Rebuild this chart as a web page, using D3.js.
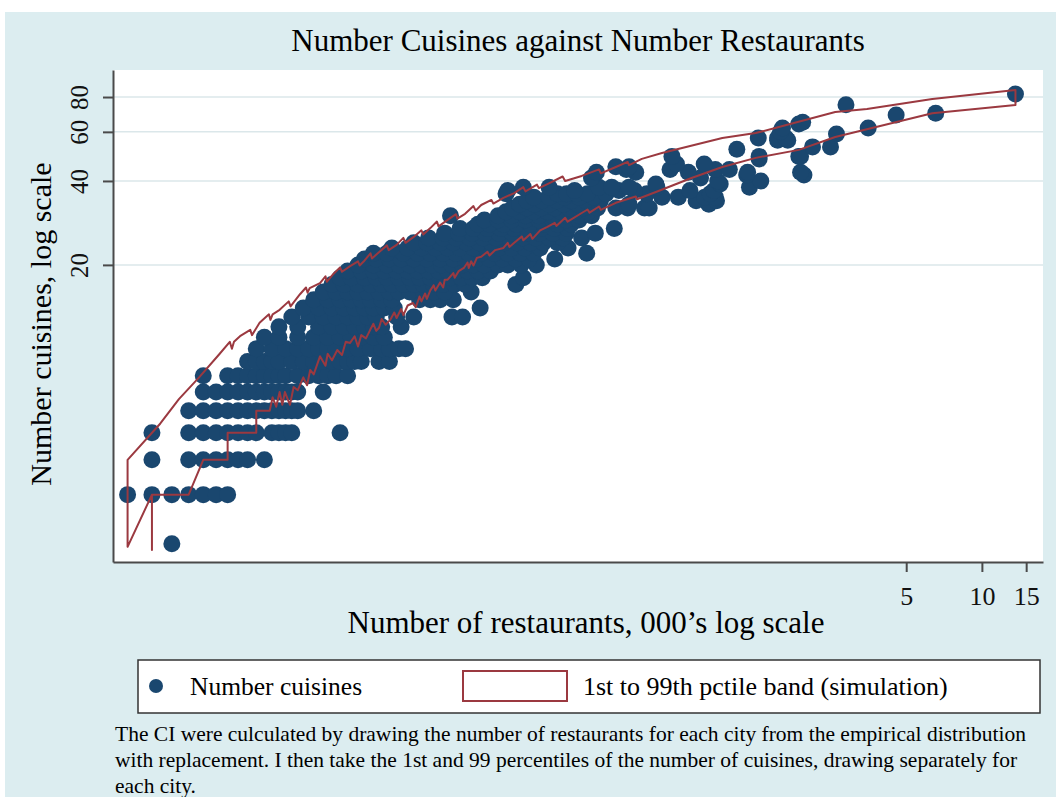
<!DOCTYPE html>
<html>
<head>
<meta charset="utf-8">
<script src="https://cdn.jsdelivr.net/npm/d3@7"></script>
<style>
  body { margin: 0; background: #fff; }
  svg { display: block; font-family: "Liberation Serif", "DejaVu Serif", serif; }
</style>
</head>
<body>
<div id="chart"></div>
<script>
const W = 1056;
const H = 797;
const plot = { left: 113, right: 1043, top: 70, bottom: 562 };

// number of cuisines (one row per value) and the restaurant counts of the cities at that value
const cuisineRows = [2, 3, 4, 5, 6, 7, 8, 9, 10, 11, 12, 13, 14, 15, 16, 17, 18, 19, 20,
  21, 22, 23, 24, 25, 26, 27, 28, 29, 30, 31, 32, 33, 34, 35, 36, 37, 38, 39, 40,
  41, 42, 43, 44, 45, 46, 48, 49, 52, 53, 56, 57, 59, 60, 62, 64, 65, 69, 70, 75, 82];
const restaurantRows = [
  [6],
  [4, 5, 6, 7, 8, 9, 10],
  [5, 7, 8, 9, 10, 11, 12, 14],
  [5, 7, 8, 9, 10, 11, 12, 13, 15, 16, 17, 18, 28],
  [7, 8, 9, 10, 11, 12, 13, 14, 15, 16, 17, 18, 19, 22],
  [8, 9, 10, 11, 12, 13, 14, 15, 16, 17, 18, 19, 24],
  [8, 10, 11, 12, 13, 14, 15, 16, 17, 19, 21, 23, 25, 27, 30],
  [12, 13, 14, 15, 16, 18, 20, 22, 24, 26, 28, 30, 32, 34, 40, 44],
  [13, 15, 17, 19, 21, 23, 25, 27, 30, 33, 37, 41, 44, 48, 51],
  [14, 16, 19, 22, 25, 28, 31, 34, 38, 42],
  [16, 19, 23, 26, 29, 32, 35, 38, 41, 49],
  [18, 21, 24, 27, 30, 33, 36, 39, 47, 55, 78, 86],
  [20, 23, 26, 29, 32, 35, 38, 42, 46, 101],
  [22, 25, 28, 31, 34, 37, 41, 45, 58, 64, 70, 79],
  [24, 27, 30, 33, 36, 40, 44, 48, 53, 60, 66, 73, 93],
  [26, 29, 33, 37, 41, 45, 50, 55, 60, 66, 72, 80, 88, 140],
  [28, 31, 35, 39, 43, 48, 53, 58, 64, 70, 77, 85, 94, 103, 150],
  [30, 34, 38, 42, 47, 52, 57, 63, 69, 75, 82, 90, 99, 111],
  [33, 38, 43, 48, 53, 59, 65, 71, 78, 86, 95, 105, 119, 130, 147, 169],
  [35, 39, 44, 49, 55, 62, 70, 79, 88, 98, 110, 124, 140, 158, 200],
  [38, 43, 50, 57, 64, 72, 81, 91, 102, 115, 130, 146, 165, 268],
  [45, 52, 59, 67, 75, 84, 95, 107, 120, 135, 152, 175, 226],
  [55, 62, 70, 79, 89, 100, 112, 126, 142, 160, 180, 205],
  [63, 72, 81, 92, 104, 117, 132, 149, 168, 190, 215, 256],
  [73, 83, 94, 106, 120, 136, 154, 174, 197, 222, 290],
  [84, 95, 108, 122, 138, 156, 176, 199, 225, 345],
  [99, 110, 125, 141, 160, 181, 205, 232],
  [105, 119, 135, 153, 173, 196, 222, 250],
  [77, 119, 135, 153, 173, 196, 222, 251, 280],
  [128, 145, 165, 187, 212, 240, 272],
  [136, 155, 177, 200, 228, 260, 296, 350, 390, 455, 475],
  [145, 166, 190, 217, 248, 283, 395, 820],
  [155, 178, 204, 233, 266, 304, 730, 880],
  [165, 190, 218, 250, 285, 534, 620, 790, 870],
  [128, 205, 223, 245, 270, 320, 465, 830],
  [130, 240, 360, 415, 690, 860],
  [150, 190, 300, 337, 395, 510, 1190],
  [505, 910],
  [890, 1320],
  [280, 760],
  [1160, 1960],
  [293, 420, 680, 1170, 1900],
  [385, 575, 870, 990],
  [350, 395],
  [610, 786],
  [1300],
  [585, 1300, 1870, 1900],
  [1060],
  [2120, 2500],
  [1540, 1690],
  [1290, 1540, 1660],
  [2640],
  [1580],
  [1610, 3530],
  [1870],
  [1937],
  [4560],
  [6550],
  [2880],
  [13600]
];

// 1st and 99th percentile band from the simulation: [restaurants, cuisines]
const upperBand = [[4, 4], [5.4, 5.4], [6.4, 6.6], [7.7, 7.9], [9.3, 9.6], [10.2, 10.6], [10.4, 10.0],
  [10.6, 10.6], [11.2, 11.1], [12.3, 11.7], [12.5, 11.2], [13.4, 12.4], [14.6, 13.3], [14.8, 12.7],
  [15.1, 13.3], [16.1, 13.8], [17.5, 14.8], [17.8, 14.2], [19.4, 15.7], [20.5, 16.6], [20.8, 15.9],
  [21.2, 16.5], [23.3, 17.2], [24.5, 18.2], [24.8, 17.4], [26.4, 18.6], [28, 19.6], [28.5, 18.9],
  [30.7, 19.8], [33, 20.6], [33.5, 19.9], [35, 20.7], [37, 22], [37.5, 21.1], [40.4, 22.4], [43, 23.5],
  [43.7, 22.6], [47, 23.6], [50, 25], [51, 24], [55, 25.2], [59, 26.6], [60, 25.7], [64, 27.1],
  [68, 28.6], [69, 27.5], [75, 29], [81, 30.4], [82, 29.3], [88, 30.5], [95, 32.5], [97, 31.3],
  [102, 32.8], [112, 34.2], [114, 33.2], [125, 34.8], [138, 36.2], [150, 38], [153, 36.7], [170, 38.8],
  [173, 37.7], [187, 39], [215, 41.5], [220, 40], [256, 41.7], [300, 44], [305, 42.6], [350, 44.9],
  [390, 46.8], [395, 45.6], [444, 48], [534, 50.4], [642, 52.5], [928, 57], [1260, 59.4], [1612, 63],
  [2610, 70.7], [3490, 72.4], [6350, 78.7], [13600, 84.8]];
const lowerBand = [[4, 1.95], [5, 3], [5, 1.9], [5, 3], [7, 3], [8, 4], [10, 4], [10, 5], [13, 5],
  [13, 6], [14.7, 6], [15.1, 6.7], [15.6, 6.2], [16.1, 7.0], [16.5, 6.3], [16.9, 7], [17.7, 6.3],
  [18.3, 7.3], [19, 7.1], [20, 7.9], [20.7, 7.4], [21.3, 8.4], [22, 8.1], [23.3, 9.4], [24.5, 8.7],
  [25, 9.6], [26, 9.1], [27.3, 9.9], [28.5, 9.5], [29.5, 10.6], [30.7, 10.5], [32, 11.1], [33, 10.2],
  [34, 11.2], [35.5, 10.9], [36.9, 11.7], [38, 12.3], [39, 11.6], [40, 11.9], [41, 12.8], [42.5, 12.2],
  [44.3, 12.7], [46, 13.5], [47, 12.9], [49, 13.9], [50, 13.2], [52, 14.3], [54.6, 14.6], [56, 14.1],
  [58, 15.4], [59, 14.8], [61, 15.8], [62, 15.1], [64, 16.2], [66, 16.9], [67, 16.2], [70, 17.3],
  [72, 16.6], [73, 17.7], [75, 17.7], [79, 18.7], [80, 18.0], [83, 19.0], [87, 19.5], [90, 20.4],
  [91, 19.5], [93, 20.6], [95, 19.9], [98, 21.2], [102, 21.4], [108, 22.3], [110, 21.6], [116, 22.6],
  [125, 23], [130, 24], [132, 23.2], [138, 24], [148, 25.3], [150, 24.5], [160, 25.8], [163, 24.8],
  [175, 26.6], [187, 27.4], [200, 28.3], [203, 27.6], [220, 29.5], [225, 28.6], [256, 30.7],
  [270, 31.6], [275, 30.8], [300, 32.4], [305, 31.5], [350, 33.4], [420, 35.2], [425, 34.4],
  [505, 36.5], [700, 41], [928, 44.9], [1260, 48.4], [1870, 51.7], [2610, 57.5], [6350, 70],
  [13600, 74.9]];

const xTicks = [5000, 10000, 15000];
const yTicks = [20, 40, 60, 80];
const noteLines = [
  "The CI were culculated by drawing the number of restaurants for each city from the empirical distribution",
  "with replacement. I then take the 1st and 99 percentiles of the number of cuisines, drawing separately for",
  "each city."
];

const navy = "#1a476f";
const maroon = "#9b3940";

const points = cuisineRows.flatMap((c, i) => restaurantRows[i].map((r) => ({ r, c })));

const svg = d3.select("#chart").append("svg").attr("width", W).attr("height", H);

svg.append("rect").attr("x", 5).attr("y", 12).attr("width", W - 5).attr("height", H - 12).attr("fill", "#dcedf0");
svg.append("rect")
  .attr("x", plot.left)
  .attr("y", plot.top)
  .attr("width", plot.right - plot.left)
  .attr("height", plot.bottom - plot.top)
  .attr("fill", "#fff");

const x = d3.scaleLog().domain([3.5, 17500]).range([plot.left, plot.right]);
const y = d3.scaleLog().domain([1.72, 100]).range([plot.bottom, plot.top]);

svg.append("g")
  .selectAll("line")
  .data(yTicks)
  .join("line")
  .attr("x1", plot.left)
  .attr("x2", plot.right)
  .attr("y1", (d) => y(d))
  .attr("y2", (d) => y(d))
  .attr("stroke", "#dbe7ea")
  .attr("stroke-width", 1.5);

svg.append("g")
  .selectAll("circle")
  .data(points)
  .join("circle")
  .attr("cx", (d) => x(d.r))
  .attr("cy", (d) => y(d.c))
  .attr("r", 8.5)
  .attr("fill", navy);

const bandLine = d3.line().x((d) => x(d[0])).y((d) => y(d[1]));
svg.append("path")
  .attr("d", bandLine(upperBand.concat(lowerBand.slice().reverse())) + "Z")
  .attr("fill", "none")
  .attr("stroke", maroon)
  .attr("stroke-width", 2)
  .attr("stroke-linejoin", "round");

// axes
const yAxis = d3.axisLeft(y).tickValues(yTicks).tickSize(10).tickSizeOuter(0).tickFormat(d3.format("d"));
const gy = svg.append("g").attr("transform", `translate(${plot.left},0)`).call(yAxis);
gy.selectAll("text")
  .attr("transform", "rotate(-90)")
  .attr("x", 0)
  .attr("y", -25)
  .attr("dy", 0)
  .attr("text-anchor", "middle")
  .style("font-size", "25px")
  .style("font-family", "Liberation Serif");

const xAxis = d3.axisBottom(x).tickValues(xTicks).tickSize(10).tickSizeOuter(0).tickFormat((d) => d / 1000);
const gx = svg.append("g").attr("transform", `translate(0,${plot.bottom})`).call(xAxis);
gx.selectAll("text")
  .attr("y", 43)
  .attr("dy", 0)
  .style("font-size", "26px")
  .style("font-family", "Liberation Serif");

svg.selectAll(".domain, .tick line").attr("stroke", "#4a4a4a").attr("stroke-width", 2);
svg.selectAll(".tick text").attr("fill", "#111");

// titles
svg.append("text")
  .attr("x", (plot.left + plot.right) / 2)
  .attr("y", 51)
  .attr("text-anchor", "middle")
  .style("font-size", "31px")
  .text("Number Cuisines against Number Restaurants");

svg.append("text")
  .attr("transform", "translate(51,324) rotate(-90)")
  .attr("text-anchor", "middle")
  .style("font-size", "30px")
  .text("Number cuisines, log scale");

svg.append("text")
  .attr("x", 586)
  .attr("y", 633)
  .attr("text-anchor", "middle")
  .style("font-size", "31px")
  .text("Number of restaurants, 000\u2019s log scale");

// legend
const legend = svg.append("g");
legend.append("rect")
  .attr("x", 138)
  .attr("y", 660)
  .attr("width", 902)
  .attr("height", 53)
  .attr("fill", "#fff")
  .attr("stroke", "#333")
  .attr("stroke-width", 1.5);
legend.append("circle").attr("cx", 156).attr("cy", 686).attr("r", 7).attr("fill", navy);
legend.append("text").attr("x", 190).attr("y", 695).style("font-size", "25.5px").text("Number cuisines");
legend.append("rect")
  .attr("x", 463)
  .attr("y", 671)
  .attr("width", 104)
  .attr("height", 30)
  .attr("fill", "#fff")
  .attr("stroke", maroon)
  .attr("stroke-width", 2);
legend.append("text").attr("x", 583).attr("y", 695).style("font-size", "26px").text("1st to 99th pctile band (simulation)");

// note
svg.append("g")
  .selectAll("text")
  .data(noteLines)
  .join("text")
  .attr("x", 115)
  .attr("y", (d, i) => 741 + i * 26)
  .style("font-size", "21.5px")
  .text((d) => d);
</script>
</body>
</html>
